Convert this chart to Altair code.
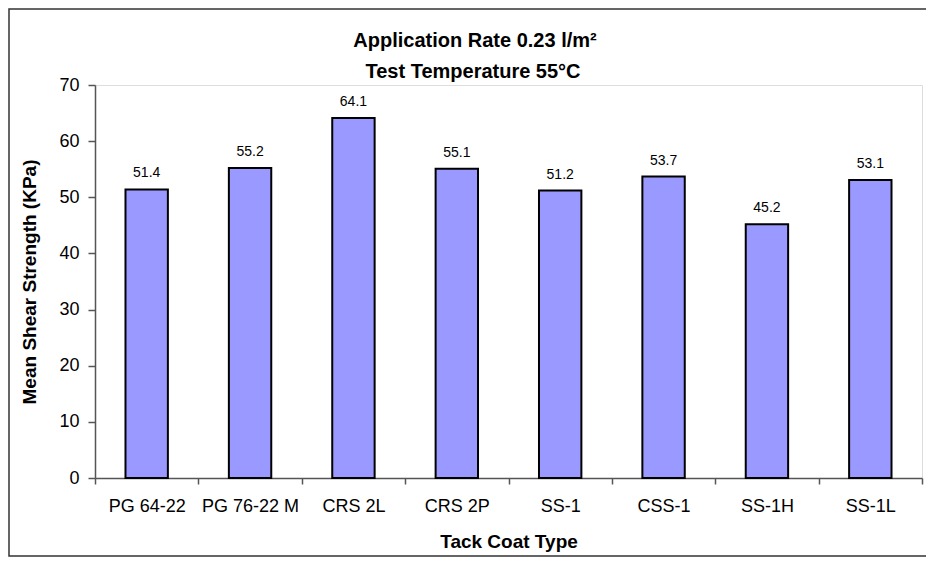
import altair as alt
import pandas as pd

categories = ["PG 64-22", "PG 76-22 M", "CRS 2L", "CRS 2P", "SS-1", "CSS-1", "SS-1H", "SS-1L"]
strength = [51.4, 55.2, 64.1, 55.1, 51.2, 53.7, 45.2, 53.1]
y_ticks = [0, 10, 20, 30, 40, 50, 60, 70]
title_line1 = "Application Rate 0.23 l/m²"
title_line2 = "Test Temperature 55°C"

df = pd.DataFrame({"type": categories, "strength": strength})

FONT = "Liberation Sans"
W, H = 827, 393
PAD_L, PAD_T, PAD_R, PAD_B = 87, 77, 4, 86

x_enc = alt.X(
    "type:N",
    sort=categories,
    scale=alt.Scale(paddingInner=0, paddingOuter=0),
    axis=alt.Axis(
        title="Tack Coat Type",
        labelAngle=0,
        tickBand="extent",
        tickSize=6,
        labelPadding=13,
        labelFontSize=18,
        labelFont=FONT,
        labelColor="black",
        titleFontSize=19,
        titleFont=FONT,
        titleFontWeight="bold",
        titleColor="black",
        titlePadding=17,
        domainColor="#555555",
        domainWidth=1.5,
        tickColor="#555555",
        tickWidth=1.5,
    ),
)

y_enc = alt.Y(
    "strength:Q",
    scale=alt.Scale(domain=[0, 70], nice=False),
    axis=alt.Axis(
        title="Mean Shear Strength (KPa)",
        values=y_ticks,
        grid=False,
        tickSize=7,
        labelPadding=9,
        labelFontSize=18,
        labelFont=FONT,
        labelColor="black",
        titleFontSize=19,
        titleFont=FONT,
        titleFontWeight="bold",
        titleColor="black",
        titlePadding=19,
        domainColor="#555555",
        domainWidth=1.5,
        tickColor="#555555",
        tickWidth=1.5,
    ),
)

one = pd.DataFrame({"a": [0]})

frame = alt.Chart(one).mark_rect(
    fillOpacity=0, stroke="#333333", strokeWidth=1.5
).encode(
    x=alt.value(-PAD_L + 1),
    x2=alt.value(W + 40),
    y=alt.value(-PAD_T + 1),
    y2=alt.value(H + PAD_B - 8),
)

t1 = alt.Chart(pd.DataFrame({"t": [title_line1]})).mark_text(
    fontSize=20, font=FONT, fontWeight="bold", color="black",
    align="center", baseline="alphabetic"
).encode(text="t:N", x=alt.value(380), y=alt.value(-38))

t2 = alt.Chart(pd.DataFrame({"t": [title_line2]})).mark_text(
    fontSize=20, font=FONT, fontWeight="bold", color="black",
    align="center", baseline="alphabetic"
).encode(text="t:N", x=alt.value(378), y=alt.value(-7))

base = alt.Chart(df)

bars = base.mark_bar(
    color="#9999ff", stroke="black", strokeWidth=2, width=alt.RelativeBandSize(0.41)
).encode(x=x_enc, y=y_enc)

labels = base.mark_text(
    baseline="bottom", dy=-9, fontSize=14, font=FONT, color="black"
).encode(
    x=alt.X("type:N", sort=categories),
    y=alt.Y("strength:Q"),
    text=alt.Text("strength:Q", format=".1f"),
)

chart = alt.layer(frame, bars, labels, t1, t2).properties(
    width=W,
    height=H,
    autosize=alt.AutoSizeParams(type="none"),
    padding={"left": PAD_L, "top": PAD_T, "right": PAD_R, "bottom": PAD_B},
).configure_view(
    stroke="#808080", strokeWidth=2
).configure(background="white")

chart.save("out.html", embed_options={"renderer": "svg", "actions": False})
